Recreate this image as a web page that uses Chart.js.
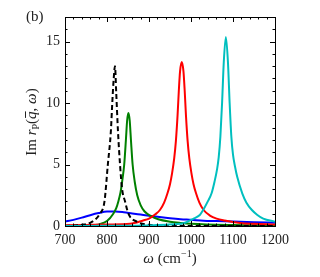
<!DOCTYPE html>
<html>
<head>
<meta charset="utf-8">
<script src="https://cdn.jsdelivr.net/npm/chart.js@4.4.1/dist/chart.umd.min.js"></script>
<style>
    html, body { margin: 0; padding: 0; background: #ffffff; }
    #wrap { width: 320px; height: 277px; position: relative; }
</style>
</head>
<body>
<div id="wrap"><canvas id="imChart" width="320" height="277"></canvas></div>
<script>
// === DATA ===
const xTicks = [700, 800, 900, 1000, 1100, 1200];
const yTicks = [0, 5, 10, 15];

// black dashed
const blackW = [700, 740, 765, 783, 794, 802, 809, 813, 816, 819, 822, 826, 831, 836, 843, 851, 871, 900, 950, 1000, 1200];
const blackV = [0.0, 0.1, 0.35, 1.0, 2.0, 5.0, 7.6, 10.3, 12.0, 13.0, 10.8, 7.8, 5.0, 3.0, 2.0, 1.0, 0.35, 0.1, 0.03, 0.0, 0.0];

// green
const greenW = [700, 750, 783, 800, 815, 822, 827, 832, 836, 841, 845, 848, 851, 854, 857, 861, 866, 872, 880, 889, 905, 922, 950, 975, 1000, 1100, 1200];
const greenV = [0.02, 0.05, 0.15, 0.4, 1.0, 1.45, 2.0, 2.7, 3.6, 5.0, 7.0, 8.6, 9.2, 8.6, 7.0, 5.0, 3.6, 2.5, 1.7, 1.2, 0.8, 0.55, 0.35, 0.25, 0.18, 0.08, 0.05];

// red
const redW = [700, 750, 800, 855, 886, 900, 915, 926, 936, 944, 950, 955, 960, 964, 968, 971, 974, 978, 982, 985, 988, 992, 996, 1001, 1006, 1012, 1020, 1030, 1045, 1061, 1080, 1117, 1150, 1200];
const redV = [0.06, 0.09, 0.12, 0.18, 0.45, 0.6, 0.95, 1.3, 1.9, 2.66, 3.4, 4.3, 5.5, 6.9, 9.0, 11.0, 12.6, 13.34, 12.6, 11.0, 9.0, 6.9, 5.5, 4.3, 3.4, 2.66, 1.9, 1.3, 0.85, 0.6, 0.45, 0.25, 0.18, 0.12];

// cyan
const cyanW = [700, 800, 900, 940, 960, 982, 1006, 1021, 1029, 1040, 1049, 1056, 1062, 1066, 1070, 1074, 1078, 1083, 1088, 1092, 1096, 1100, 1105, 1110, 1122, 1132, 1145, 1158, 1172, 1200];
const cyanV = [0.0, 0.02, 0.05, 0.1, 0.15, 0.22, 0.6, 0.9, 1.3, 2.0, 2.66, 3.6, 4.6, 5.6, 7.3, 10.0, 13.3, 15.38, 13.3, 10.0, 7.3, 5.8, 4.8, 4.0, 2.66, 1.9, 1.3, 0.9, 0.6, 0.35];

// blue (broad)
const blueW = [700, 720, 740, 760, 780, 800, 820, 840, 860, 880, 900, 925, 950, 975, 1000, 1030, 1060, 1100, 1150, 1200];
const blueV = [0.35, 0.5, 0.68, 0.88, 1.05, 1.17, 1.18, 1.12, 1.02, 0.93, 0.84, 0.73, 0.63, 0.55, 0.5, 0.43, 0.4, 0.36, 0.31, 0.27];

// Pair up x and y arrays into points
function toPoints(ws, vs) {
    return ws.map((w, i) => ({ x: w, y: vs[i] }));
}

function series(ws, vs, color, dash) {
    return {
        data: toPoints(ws, vs),
        borderColor: color,
        backgroundColor: color,
        borderWidth: 2,
        borderDash: dash || [],
        pointRadius: 0,
        fill: false,
        showLine: true,
        cubicInterpolationMode: "monotone"
    };
}

const SERIF = "'Liberation Serif', 'DejaVu Serif', serif";

// Frame + inward ticks on all four sides
const frameTicks = {
    id: "frameTicks",
    afterDatasetsDraw(chart) {
        const { ctx, chartArea: a, scales } = chart;
        const xs = scales.x, ys = scales.y;
        ctx.save();
        ctx.strokeStyle = "#000";
        ctx.lineWidth = 1;
        ctx.beginPath();
        for (let w = 700; w <= 1200; w += 20) {
            const px = Math.round(xs.getPixelForValue(w)) + 0.5;
            const len = (w % 100 === 0) ? 5 : 2.5;
            ctx.moveTo(px, a.bottom); ctx.lineTo(px, a.bottom - len);
            ctx.moveTo(px, a.top); ctx.lineTo(px, a.top + len);
        }
        for (let v = 0; v <= 17; v += 1) {
            const py = Math.round(ys.getPixelForValue(v)) + 0.5;
            const len = (v % 5 === 0) ? 5 : 2.5;
            ctx.moveTo(a.left, py); ctx.lineTo(a.left + len, py);
            ctx.moveTo(a.right, py); ctx.lineTo(a.right - len, py);
        }
        ctx.stroke();
        ctx.strokeRect(Math.round(a.left) + 0.5, Math.round(a.top) + 0.5,
            Math.round(a.right - a.left), Math.round(a.bottom - a.top));
        ctx.restore();
    }
};

// Draw a run of text pieces: [text, font, dy]
function drawRuns(ctx, runs, x, y) {
    let total = 0;
    runs.forEach(r => { ctx.font = r[1]; total += ctx.measureText(r[0]).width; });
    let cx = x - total / 2;
    const out = [];
    runs.forEach(r => {
        ctx.font = r[1];
        ctx.fillText(r[0], cx, y + (r[2] || 0));
        out.push({ x: cx, w: ctx.measureText(r[0]).width });
        cx += ctx.measureText(r[0]).width;
    });
    return out;
}

// Axis titles and panel label
const labels = {
    id: "labels",
    afterDraw(chart) {
        const ctx = chart.ctx;
        const rom = "15px " + SERIF;
        const ita = "italic 15px " + SERIF;
        const small = "10px " + SERIF;
        ctx.save();
        ctx.fillStyle = "#222";
        ctx.textBaseline = "alphabetic";
        ctx.textAlign = "left";

        // x title
        drawRuns(ctx, [["ω", ita], [" (cm", rom], ["−1", small, -6], [")", rom]], 170, 263);

        // y title, rotated
        ctx.translate(36, 122);
        ctx.rotate(-Math.PI / 2);
        const pos = drawRuns(ctx, [["Im ", rom], ["r", ita], ["P", small, 3], ["(", rom], ["q", ita], [", ", rom], ["ω", ita], [")", rom]], 0, 0);
        // bar over q
        const q = pos[4];
        ctx.fillRect(q.x + 1, -11, q.w - 1, 1);
        ctx.setTransform(1, 0, 0, 1, 0, 0);

        // panel label
        ctx.font = rom;
        ctx.fillText("(b)", 26, 21);
        ctx.restore();
    }
};

function renderChart() {
    const canvas = document.getElementById("imChart");
    new Chart(canvas, {
        type: "scatter",
        data: {
            datasets: [
                series(cyanW, cyanV, "#00bfbf"),
                series(blackW, blackV, "#000000", [5, 3]),
                series(redW, redV, "#ff0000"),
                series(greenW, greenV, "#008000"),
                series(blueW, blueV, "#0000ff")
            ]
        },
        options: {
            responsive: false,
            animation: false,
            layout: { padding: { top: 17, right: 45, left: 0, bottom: 0 } },
            plugins: { legend: { display: false }, tooltip: { enabled: false } },
            scales: {
                x: {
                    type: "linear",
                    min: 700, max: 1200,
                    afterFit: s => { s.height = 51; },
                    afterBuildTicks: s => { s.ticks = xTicks.map(v => ({ value: v })); },
                    grid: { display: false, drawTicks: false },
                    border: { display: false },
                    ticks: { color: "#222", padding: 6, maxRotation: 0, callback: v => String(v), font: { family: SERIF, size: 14 } }
                },
                y: {
                    type: "linear",
                    min: 0, max: 17,
                    afterFit: s => { s.width = 65; },
                    afterBuildTicks: s => { s.ticks = yTicks.map(v => ({ value: v })); },
                    grid: { display: false, drawTicks: false },
                    border: { display: false },
                    ticks: { color: "#222", padding: 5, callback: v => String(v), font: { family: SERIF, size: 14 } }
                }
            }
        },
        plugins: [frameTicks, labels]
    });
}

renderChart();
</script>
</body>
</html>
